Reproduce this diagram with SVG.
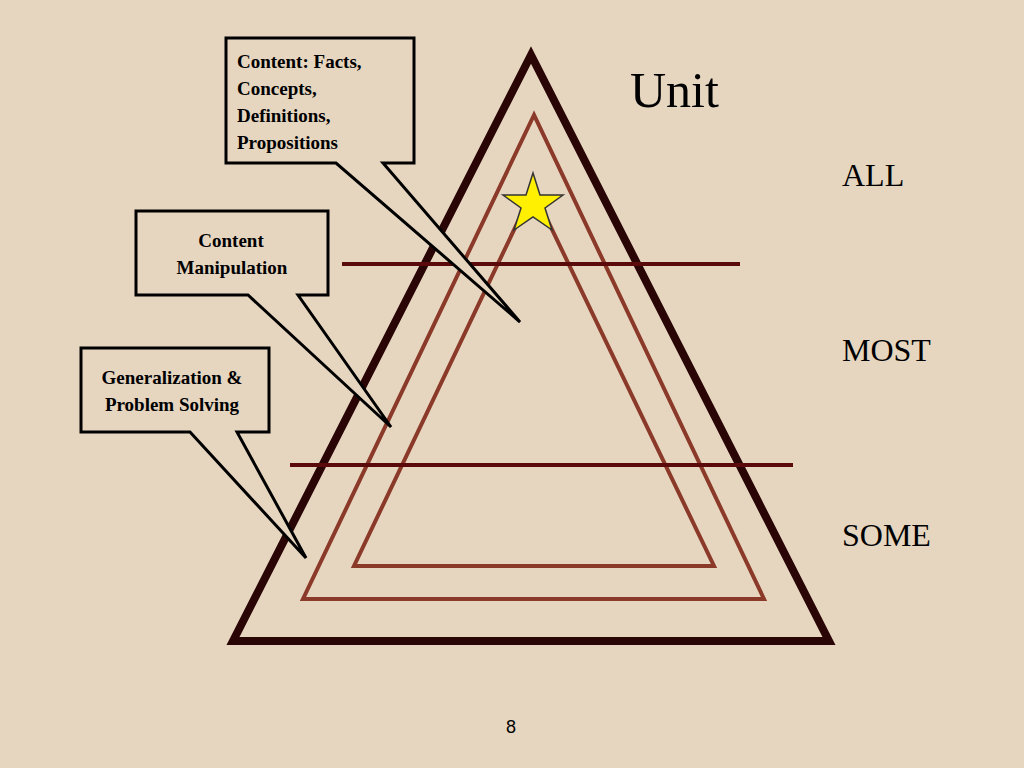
<svg xmlns="http://www.w3.org/2000/svg" width="1024" height="768" viewBox="0 0 1024 768">
<style>
.co{fill:#e6d6c0;stroke:#000;stroke-width:3;stroke-linejoin:miter}
.t{font-family:"Liberation Serif",serif;font-weight:bold;font-size:19px;fill:#000}
.big{font-family:"Liberation Serif",serif;font-size:32px;fill:#000}
.tri{fill:none;stroke-linejoin:miter}
</style>
<rect width="1024" height="768" fill="#e6d6c0"/>
<g id="pyramid">
<polygon class="tri" points="531,55 233,641 829,641" stroke="#2a0505" stroke-width="8"/>
<polygon class="tri" points="534,115 303,599 764,599" stroke="#8b3a2a" stroke-width="4"/>
<polygon class="tri" points="533,190 354,566 714,566" stroke="#8b3a2a" stroke-width="4"/>
<line x1="342" y1="264" x2="740" y2="264" stroke="#5a0a0a" stroke-width="4"/>
<line x1="290" y1="465" x2="793" y2="465" stroke="#5a0a0a" stroke-width="4"/>
<polygon points="533,173 540,195 563,195 545,208 552,230 533,217 514,230 521,208 503,195 526,195" fill="#ffef00" stroke="#333" stroke-width="1.5"/>
</g>
<g id="callout1">
<polygon class="co" points="226,38 414,38 414,163 383,163 520,322 336,163 226,163"/>
<text class="t" x="237" y="68">Content: Facts,</text>
<text class="t" x="237" y="95">Concepts,</text>
<text class="t" x="237" y="122">Definitions,</text>
<text class="t" x="237" y="149">Propositions</text>
</g>
<g id="callout2">
<polygon class="co" points="136,211 328,211 328,295 298,295 391,427 248,295 136,295"/>
<text class="t" x="231" y="247" text-anchor="middle">Content</text>
<text class="t" x="232" y="274" text-anchor="middle">Manipulation</text>
</g>
<g id="callout3">
<polygon class="co" points="81,348 269,348 269,432 237,432 306,558 190,432 81,432"/>
<text class="t" x="172" y="384" text-anchor="middle">Generalization &amp;</text>
<text class="t" x="172" y="411" text-anchor="middle">Problem Solving</text>
</g>
<g id="labels">
<text x="630" y="107" font-family="Liberation Serif,serif" font-size="50" fill="#000">Unit</text>
<text class="big" x="842" y="186">ALL</text>
<text class="big" x="842" y="361">MOST</text>
<text class="big" x="842" y="546">SOME</text>
<text x="511" y="733" font-family="Liberation Sans,sans-serif" font-size="18" text-anchor="middle" fill="#000">8</text>
</g>
</svg>
